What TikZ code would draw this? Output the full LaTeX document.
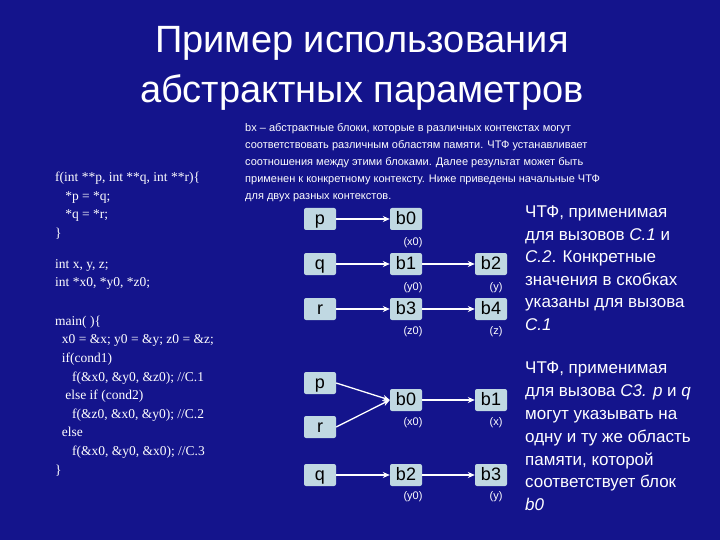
\documentclass[tikz,border=0pt]{standalone}
\usepackage{fontspec}
\setmainfont{Liberation Sans}
\newfontfamily\codefont{Liberation Serif}
\usetikzlibrary{arrows.meta}
\begin{document}
\begin{tikzpicture}[x=1pt,y=-1pt,
 box/.style={fill=boxc,rounded corners=2pt,minimum width=32pt,minimum height=22pt,inner sep=0pt,text height=12pt,text depth=1pt,font=\fontsize{18}{18}\selectfont,text=black},
 lbl/.style={text=white,font=\fontsize{11}{11}\selectfont},
 arr/.style={white,line width=1.3pt,-{Stealth[length=7pt,width=6pt]}},
 code/.style={text=white,anchor=north west,align=left,font=\codefont\fontsize{13.5}{18.6}\selectfont,inner sep=0pt},
 txt/.style={text=white,anchor=north west,align=left,inner sep=0pt}]
\definecolor{bgc}{RGB}{20,20,140}
\definecolor{boxc}{RGB}{192,216,226}
\fill[bgc] (0,0) rectangle (720,540);
\node[text=white,align=center,font=\fontsize{38}{50}\selectfont] (title) at (362,68) {Пример использования\\абстрактных параметров};
\node[txt,font=\fontsize{11}{17}\selectfont] (para) at (245,123) {bx -- абстрактные блоки, которые в различных контекстах могут\\соответствовать различным областям памяти. ЧТФ устанавливает\\соотношения между этими блоками. Далее результат может быть\\применен к конкретному контексту. Ниже приведены начальные ЧТФ\\для двух разных контекстов.};
\node[code] (code) at (55,172) {f(int **p, int **q, int **r)\{\\
\ \ \ *p = *q;\\
\ \ \ *q = *r;\\
\}\\[12pt]
int x, y, z;\\
int *x0, *y0, *z0;\\[20pt]
main( )\{\\
\ \ x0 = \&x; y0 = \&y; z0 = \&z;\\
\ \ if(cond1)\\
\ \ \ \ \ f(\&x0, \&y0, \&z0); //C.1\\
\ \ \ else if (cond2)\\
\ \ \ \ \ f(\&z0, \&x0, \&y0); //C.2\\
\ \ else\\
\ \ \ \ \ f(\&x0, \&y0, \&x0); //C.3\\
\}};
\node[txt,font=\fontsize{17}{22.5}\selectfont] (t1) at (525,206) {ЧТФ, применимая\\для вызовов \textit{С.1} и\\\textit{С.2}. Конкретные\\значения в скобках\\указаны для вызова\\\textit{С.1}};
\node[txt,font=\fontsize{17}{22.8}\selectfont] (t2) at (525,362) {ЧТФ, применимая\\для вызова \textit{С3. р} и \textit{q}\\могут указывать на\\одну и ту же область\\памяти, которой\\соответствует блок\\\textit{b0}};
% top diagram
\node[box] (p1) at (320,219) {p};
\node[box] (q1) at (320,264) {q};
\node[box] (r1) at (320,309) {r};
\node[box] (b0) at (406,219) {b0};
\node[box] (b1) at (406,264) {b1};
\node[box] (b3) at (406,309) {b3};
\node[box] (b2) at (491,264) {b2};
\node[box] (b4) at (491,309) {b4};
\node[lbl] (lx0) at (413,243) {(x0)};
\node[lbl] (ly0) at (413,288) {(y0)};
\node[lbl] (lz0) at (413,332) {(z0)};
\node[lbl] (ly) at (496,288) {(y)};
\node[lbl] (lz) at (496,332) {(z)};
\draw[arr] (p1) -- (b0);
\draw[arr] (q1) -- (b1);
\draw[arr] (b1) -- (b2);
\draw[arr] (r1) -- (b3);
\draw[arr] (b3) -- (b4);
% bottom diagram
\node[box] (p2) at (320,383) {p};
\node[box] (r2) at (320,427) {r};
\node[box] (q2) at (320,475) {q};
\node[box] (c0) at (406,400) {b0};
\node[box] (c1) at (491,400) {b1};
\node[box] (c2) at (406,475) {b2};
\node[box] (c3) at (491,475) {b3};
\node[lbl] (mx0) at (413,423) {(x0)};
\node[lbl] (mx) at (496,423) {(x)};
\node[lbl] (my0) at (413,497) {(y0)};
\node[lbl] (my) at (496,497) {(y)};
\draw[arr] (p2.east) -- (c0.west);
\draw[arr] (r2.east) -- (c0.west);
\draw[arr] (c0) -- (c1);
\draw[arr] (q2) -- (c2);
\draw[arr] (c2) -- (c3);
\end{tikzpicture}
\end{document}
